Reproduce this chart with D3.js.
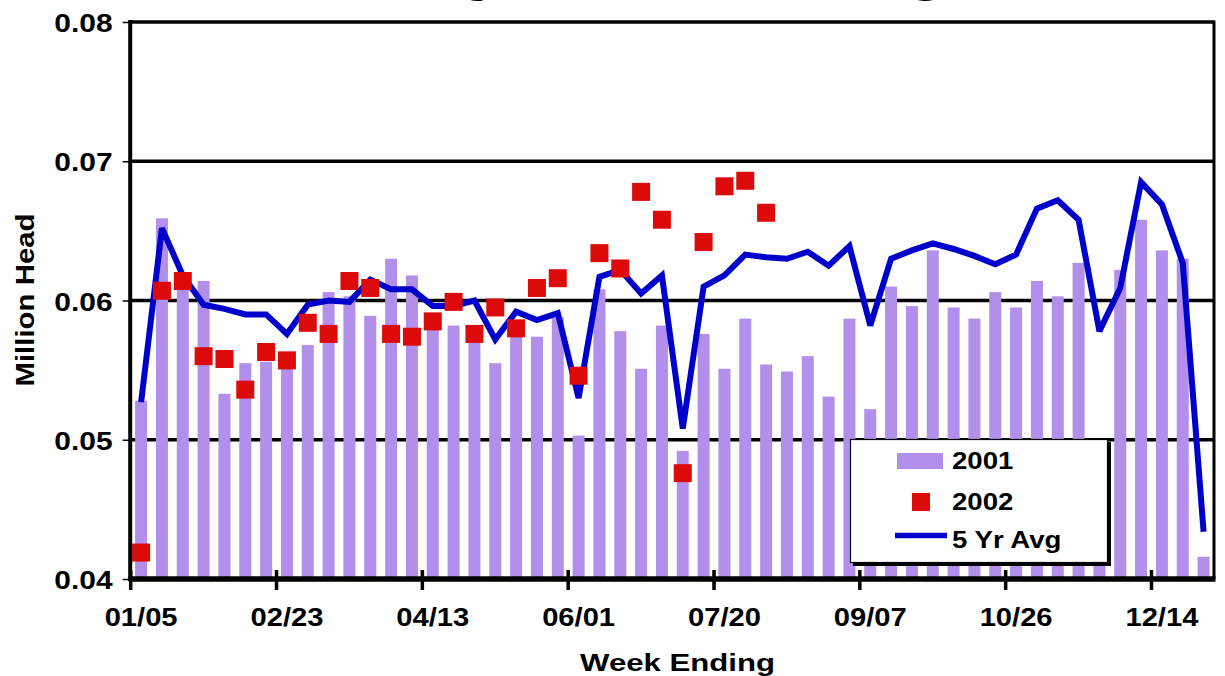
<!DOCTYPE html>
<html><head><meta charset="utf-8">
<script src="https://cdn.jsdelivr.net/npm/d3@7"></script>
<style>
body{margin:0;background:#fff}
svg{display:block}
text{font-family:"Liberation Sans",Arial,Helvetica,sans-serif;font-weight:bold;fill:#000}
</style>
</head><body>
<svg id="c" width="1225" height="676"></svg>
<script>
// ---- data ----
const weeks=["01/05","01/12","01/19","01/26","02/02","02/09","02/16","02/23","03/02","03/09","03/16","03/23","03/30",
"04/06","04/13","04/20","04/27","05/04","05/11","05/18","05/25","06/01","06/08","06/15","06/22","06/29",
"07/06","07/13","07/20","07/27","08/03","08/10","08/17","08/24","08/31","09/07","09/14","09/21","09/28",
"10/05","10/12","10/19","10/26","11/02","11/09","11/16","11/23","11/30","12/07","12/14","12/21","12/28"];
const s2001=[0.0528,0.0659,0.0610,0.0614,0.0533,0.0555,0.0556,0.0553,0.0568,0.0606,0.0603,0.0589,0.0630,
0.0618,0.0581,0.0582,0.0578,0.0555,0.0578,0.0574,0.0588,0.0503,0.0608,0.0578,0.0551,0.0582,
0.0492,0.0576,0.0551,0.0587,0.0554,0.0549,0.0560,0.0531,0.0587,0.0522,0.0610,0.0596,0.0636,
0.0595,0.0587,0.0606,0.0595,0.0614,0.0603,0.0627,0.0485,0.0622,0.0658,0.0636,0.0630,0.0416];
const s2002=[0.0419,0.0607,0.0614,0.0560,0.0558,0.0536,0.0563,0.0557,0.0584,0.0576,0.0614,0.0609,0.0576,
0.0574,0.0585,0.0599,0.0576,0.0595,0.0580,0.0609,0.0616,0.0546,0.0634,0.0623,0.0678,0.0658,
0.0476,0.0642,0.0682,0.0686,0.0663];
const avg5=[0.0527,0.0652,0.0618,0.0597,0.0594,0.0590,0.0590,0.0576,0.0597,0.0600,0.0599,0.0615,0.0608,
0.0608,0.0596,0.0596,0.0600,0.0572,0.0592,0.0586,0.0591,0.0530,0.0617,0.0622,0.0605,0.0618,
0.0508,0.0610,0.0618,0.0633,0.0631,0.0630,0.0635,0.0625,0.0639,0.0582,0.0630,0.0636,0.0641,
0.0637,0.0632,0.0626,0.0633,0.0666,0.0672,0.0658,0.0578,0.0609,0.0685,0.0669,0.0627,0.0434];
const yTicks=[0.04,0.05,0.06,0.07,0.08];
const xLabelWeeks=["01/05","02/23","04/13","06/01","07/20","09/07","10/26","12/14"];
const xTickWeeks=["01/05","02/23","04/13","06/01","07/20","09/07","10/26","12/14"];
const seriesNames=["2001","2002","5 Yr Avg"];
const titleText="Weekly Lamb Slaughter";
const yTitle="Million Head", xTitle="Week Ending";

// ---- layout ----
const svg=d3.select("#c");
const L=130.7,R=1214,T=22,B=579;
const x=d3.scaleBand().domain(weeks).range([L,R]).paddingInner(0).paddingOuter(0);
const y=d3.scaleLinear().domain([0.04,0.08]).range([B,T]);
const bw=x.bandwidth();
const cx=w=>x(w)+bw/2;
const BAR="#B18FEA", RED="#DD0A0A", BLUE="#0000CC";

// title (cut off at top of image, as in the reference)
svg.append("text").attr("x",255).attr("y",-14).style("font-size","74px").text(titleText);

// gridlines
svg.append("g").selectAll("line").data(yTicks.filter(v=>v>0.04)).join("line")
  .attr("x1",L).attr("x2",R).attr("y1",d=>y(d)).attr("y2",d=>y(d))
  .attr("stroke","#000").attr("stroke-width",3.5);
// right border
svg.append("line").attr("x1",R).attr("x2",R).attr("y1",T-1.5).attr("y2",B)
  .attr("stroke","#000").attr("stroke-width",3);

// bars
svg.append("g").selectAll("rect").data(s2001).join("rect")
  .attr("x",(d,i)=>cx(weeks[i])-6).attr("width",12)
  .attr("y",d=>y(d)).attr("height",d=>B-y(d))
  .attr("fill",BAR);

// 5 yr avg line
svg.append("path").datum(avg5)
  .attr("d",d3.line().x((d,i)=>cx(weeks[i])).y(d=>y(d)))
  .attr("fill","none").attr("stroke",BLUE).attr("stroke-width",6)
  .attr("stroke-linejoin","miter").attr("stroke-miterlimit",3);

// 2002 squares
svg.append("g").selectAll("rect").data(s2002).join("rect")
  .attr("x",(d,i)=>cx(weeks[i])-9).attr("y",d=>y(d)-9)
  .attr("width",18).attr("height",18).attr("fill",RED);

// y axis
const ya=svg.append("g").attr("transform",`translate(${L},0)`)
  .call(d3.axisLeft(y).tickValues(yTicks).tickFormat(d3.format(".2f")).tickSize(8).tickSizeOuter(0));
ya.select(".domain").remove();
ya.selectAll(".tick line").attr("stroke","#000").attr("stroke-width",1.5);
ya.selectAll(".tick text").attr("x",-16).attr("dy",0).attr("y",9.5)
  .attr("transform","scale(1.13,1)").style("font-size","26.5px").attr("fill","#000");
svg.append("line").attr("x1",L-0.5).attr("x2",L-0.5).attr("y1",T-2).attr("y2",B+2)
  .attr("stroke","#000").attr("stroke-width",4);

// x axis
svg.append("line").attr("x1",L-2).attr("x2",R+1.5).attr("y1",B).attr("y2",B)
  .attr("stroke","#000").attr("stroke-width",5.5);
svg.append("g").selectAll("line").data(xTickWeeks).join("line")
  .attr("x1",d=>x(d)).attr("x2",d=>x(d)).attr("y1",B-9).attr("y2",B+11)
  .attr("stroke","#000").attr("stroke-width",3.5);
const xa=svg.append("g").attr("transform",`translate(0,${B})`)
  .call(d3.axisBottom(x).tickValues(xLabelWeeks).tickSize(0).tickSizeOuter(0));
xa.select(".domain").remove();
xa.selectAll(".tick text").attr("x",0).attr("y",46.7).attr("dy",0)
  .attr("transform","scale(1.1,1)").style("font-size","26.5px").attr("fill","#000");

// axis titles
svg.append("g").attr("transform","translate(677.5,670.7) scale(1.27,1)")
  .append("text").attr("text-anchor","middle").style("font-size","24.5px").text(xTitle);
svg.append("g").attr("transform","translate(34,300) rotate(-90) scale(1.2,1.08)")
  .append("text").attr("text-anchor","middle").style("font-size","24.5px").text(yTitle);

// legend
const lg=svg.append("g");
lg.append("rect").attr("x",853).attr("y",442).attr("width",258).attr("height",124).attr("fill","#000");
lg.append("rect").attr("x",850.5).attr("y",439.5).attr("width",257).attr("height",123)
  .attr("fill","#fff").attr("stroke","#000").attr("stroke-width",1.2);
lg.append("rect").attr("x",897).attr("y",453).attr("width",46).attr("height",16).attr("fill",BAR);
lg.append("rect").attr("x",912).attr("y",493).attr("width",18).attr("height",18).attr("fill",RED);
lg.append("line").attr("x1",895).attr("x2",947).attr("y1",535.5).attr("y2",535.5)
  .attr("stroke",BLUE).attr("stroke-width",5.5);
const ly=[469.3,510,548.3];
seriesNames.forEach((n,i)=>{
  lg.append("g").attr("transform",`translate(952,${ly[i]}) scale(1.2,1)`)
    .append("text").style("font-size","23px").text(n);
});
</script>
</body></html>
